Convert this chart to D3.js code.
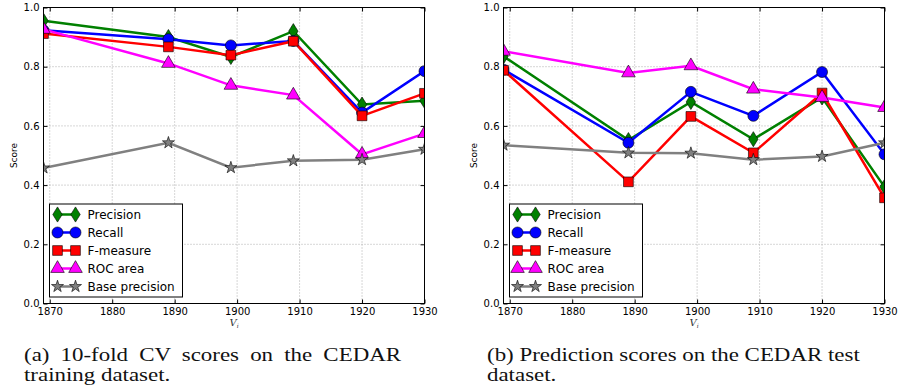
<!DOCTYPE html>
<html>
<head>
<meta charset="utf-8">
<script src="https://cdn.jsdelivr.net/npm/d3@7"></script>
<style>
  body { margin: 0; background: #fff; }
  svg { display: block; }
</style>
</head>
<body>
<svg id="fig" width="899" height="390"></svg>
<script>
// data
var years = [1869, 1889, 1899, 1909, 1920, 1930];
var xTicks = [1870, 1880, 1890, 1900, 1910, 1920, 1930];
var yTicks = [0.0, 0.2, 0.4, 0.6, 0.8, 1.0];
var seriesNames = ["Precision", "Recall", "F-measure", "ROC area", "Base precision"];

// (a) 10-fold CV on training set
var cvPrecision = [0.955, 0.900, 0.833, 0.920, 0.672, 0.685];
var cvRecall    = [0.923, 0.893, 0.872, 0.887, 0.645, 0.785];
var cvFmeasure  = [0.912, 0.867, 0.839, 0.886, 0.634, 0.710];
var cvRoc       = [0.926, 0.811, 0.737, 0.704, 0.504, 0.574];
var cvBase      = [0.458, 0.543, 0.459, 0.482, 0.486, 0.521];

// (b) prediction on test set
var testPrecision = [0.835, 0.552, 0.681, 0.555, 0.696, 0.394];
var testRecall    = [0.790, 0.543, 0.715, 0.634, 0.782, 0.504];
var testFmeasure  = [0.788, 0.411, 0.632, 0.509, 0.711, 0.357];
var testRoc       = [0.852, 0.779, 0.803, 0.724, 0.696, 0.662];
var testBase      = [0.535, 0.509, 0.508, 0.486, 0.497, 0.543];

var colors = ["#008000", "#0000ff", "#ff0000", "#ff00ff", "#808080"];

var svg = d3.select("#fig");

// thin diamond like matplotlib "d"
var thinDiamond = {
  draw: function(ctx, size) {
    var h = Math.sqrt(size) * 0.62, w = h * 0.62;
    ctx.moveTo(0, -h); ctx.lineTo(w, 0); ctx.lineTo(0, h); ctx.lineTo(-w, 0); ctx.closePath();
  }
};
var symbols = [thinDiamond, d3.symbolCircle, d3.symbolSquare, d3.symbolTriangle, d3.symbolStar];
var sizes = [150, 95, 95, 80, 45];

function drawPanel(id, left, seriesList) {
  var top = 7.5, bottom = 303.5, width = 381;
  var x = d3.scaleLinear().domain([1869, 1930]).range([left, left + width]);
  var y = d3.scaleLinear().domain([0, 1]).range([bottom, top]);
  var g = svg.append("g");

  // grid
  g.selectAll(".gx").data(xTicks).enter().append("line")
    .attr("x1", function(d) { return x(d); }).attr("x2", function(d) { return x(d); })
    .attr("y1", top).attr("y2", bottom)
    .attr("stroke", "#999").attr("stroke-width", 0.8).attr("stroke-dasharray", "1,2");
  g.selectAll(".gy").data(yTicks).enter().append("line")
    .attr("x1", left).attr("x2", left + width)
    .attr("y1", function(d) { return y(d); }).attr("y2", function(d) { return y(d); })
    .attr("stroke", "#999").attr("stroke-width", 0.8).attr("stroke-dasharray", "1,2");

  // axes (ticks inside like matplotlib classic)
  g.append("g").attr("transform", "translate(0," + bottom + ")")
    .call(d3.axisBottom(x).tickValues(xTicks).tickFormat(d3.format("d")).tickSizeInner(-4).tickSizeOuter(0).tickPadding(4));
  g.append("g").attr("transform", "translate(" + left + ",0)")
    .call(d3.axisLeft(y).tickValues(yTicks).tickFormat(d3.format(".1f")).tickSizeInner(-4).tickSizeOuter(0).tickPadding(4));
  g.append("g").attr("transform", "translate(0," + top + ")")
    .call(d3.axisTop(x).tickValues(xTicks).tickFormat("").tickSizeInner(-4).tickSizeOuter(0));
  g.append("g").attr("transform", "translate(" + (left + width) + ",0)")
    .call(d3.axisRight(y).tickValues(yTicks).tickFormat("").tickSizeInner(-4).tickSizeOuter(0));
  g.selectAll(".domain").remove();
  g.selectAll(".tick text").attr("font-family", "DejaVu Sans").attr("font-size", 10).attr("fill", "#000");
  g.selectAll(".tick line").attr("stroke", "#000");

  // labels
  g.append("text").attr("transform", "translate(" + (left - 27) + "," + ((top + bottom) / 2) + ") rotate(-90)")
    .attr("text-anchor", "middle").attr("font-family", "DejaVu Sans").attr("font-size", 9).text("Score");
  var xl = g.append("text").attr("x", left + width / 2).attr("y", 326)
    .attr("text-anchor", "middle").attr("font-family", "DejaVu Serif").attr("font-style", "italic")
    .attr("font-size", 10).attr("fill", "#333");
  xl.append("tspan").text("V");
  xl.append("tspan").attr("font-size", 6).attr("dy", 2).text("i");

  // lines + markers, clipped to the axes like matplotlib
  var line = d3.line().x(function(d, i) { return x(years[i]); }).y(function(d) { return y(d); });
  g.append("clipPath").attr("id", id).append("rect")
    .attr("x", left).attr("y", top).attr("width", width).attr("height", bottom - top);
  var plot = g.append("g").attr("clip-path", "url(#" + id + ")");
  seriesList.forEach(function(vals, k) {
    plot.append("path").datum(vals).attr("d", line)
      .attr("fill", "none").attr("stroke", colors[k]).attr("stroke-width", 2.5);
    plot.selectAll(".m" + k).data(vals).enter().append("path")
      .attr("transform", function(d, i) { return "translate(" + x(years[i]) + "," + y(d) + ")"; })
      .attr("d", d3.symbol().type(symbols[k]).size(sizes[k]))
      .attr("fill", colors[k]).attr("stroke", "#000").attr("stroke-width", 0.6);
  });

  g.append("rect").attr("x", left).attr("y", top).attr("width", width).attr("height", bottom - top)
    .attr("fill", "none").attr("stroke", "#000").attr("stroke-width", 1);

  // legend
  var lx = left + 6, ly = 204;
  var lg = g.append("g");
  lg.append("rect").attr("x", lx).attr("y", ly).attr("width", 133).attr("height", 93)
    .attr("fill", "#fff").attr("stroke", "#000").attr("stroke-width", 1);
  seriesNames.forEach(function(name, k) {
    var yy = ly + 10.5 + k * 18;
    lg.append("line").attr("x1", lx + 8).attr("x2", lx + 26).attr("y1", yy).attr("y2", yy)
      .attr("stroke", colors[k]).attr("stroke-width", 2.5);
    [lx + 8, lx + 26].forEach(function(mx) {
      lg.append("path").attr("transform", "translate(" + mx + "," + yy + ")")
        .attr("d", d3.symbol().type(symbols[k]).size(sizes[k]))
        .attr("fill", colors[k]).attr("stroke", "#000").attr("stroke-width", 0.6);
    });
    lg.append("text").attr("x", lx + 38).attr("y", yy + 4.3)
      .attr("font-family", "DejaVu Sans").attr("font-size", 12).text(name);
  });
}

drawPanel("clipA", 43.5, [cvPrecision, cvRecall, cvFmeasure, cvRoc, cvBase]);
drawPanel("clipB", 503.5, [testPrecision, testRecall, testFmeasure, testRoc, testBase]);

// captions: Computer Modern is wider than Times, so stretch glyphs horizontally
var capFont = 18;
var probe = svg.append("text").attr("font-family", "Liberation Serif").attr("font-size", capFont)
  .text("(b) Prediction scores on the CEDAR test");
var stretch = 373 / probe.node().getComputedTextLength();
probe.remove();

function caption(x, y, txt, justifyTo) {
  var t = svg.append("text").attr("transform", "translate(" + x + "," + y + ") scale(" + stretch + ",1)")
    .attr("font-family", "Liberation Serif").attr("font-size", capFont).attr("fill", "#111").text(txt);
  if (justifyTo) {
    var len = t.node().getComputedTextLength() * stretch;
    var gaps = txt.split(" ").length - 1;
    t.attr("word-spacing", (justifyTo - len) / gaps / stretch);
  }
}
caption(24, 361, "(a) 10-fold CV scores on the CEDAR", 377);
caption(24, 381, "training dataset.");
caption(487, 361, "(b) Prediction scores on the CEDAR test");
caption(487, 381, "dataset.");
</script>
</body>
</html>
